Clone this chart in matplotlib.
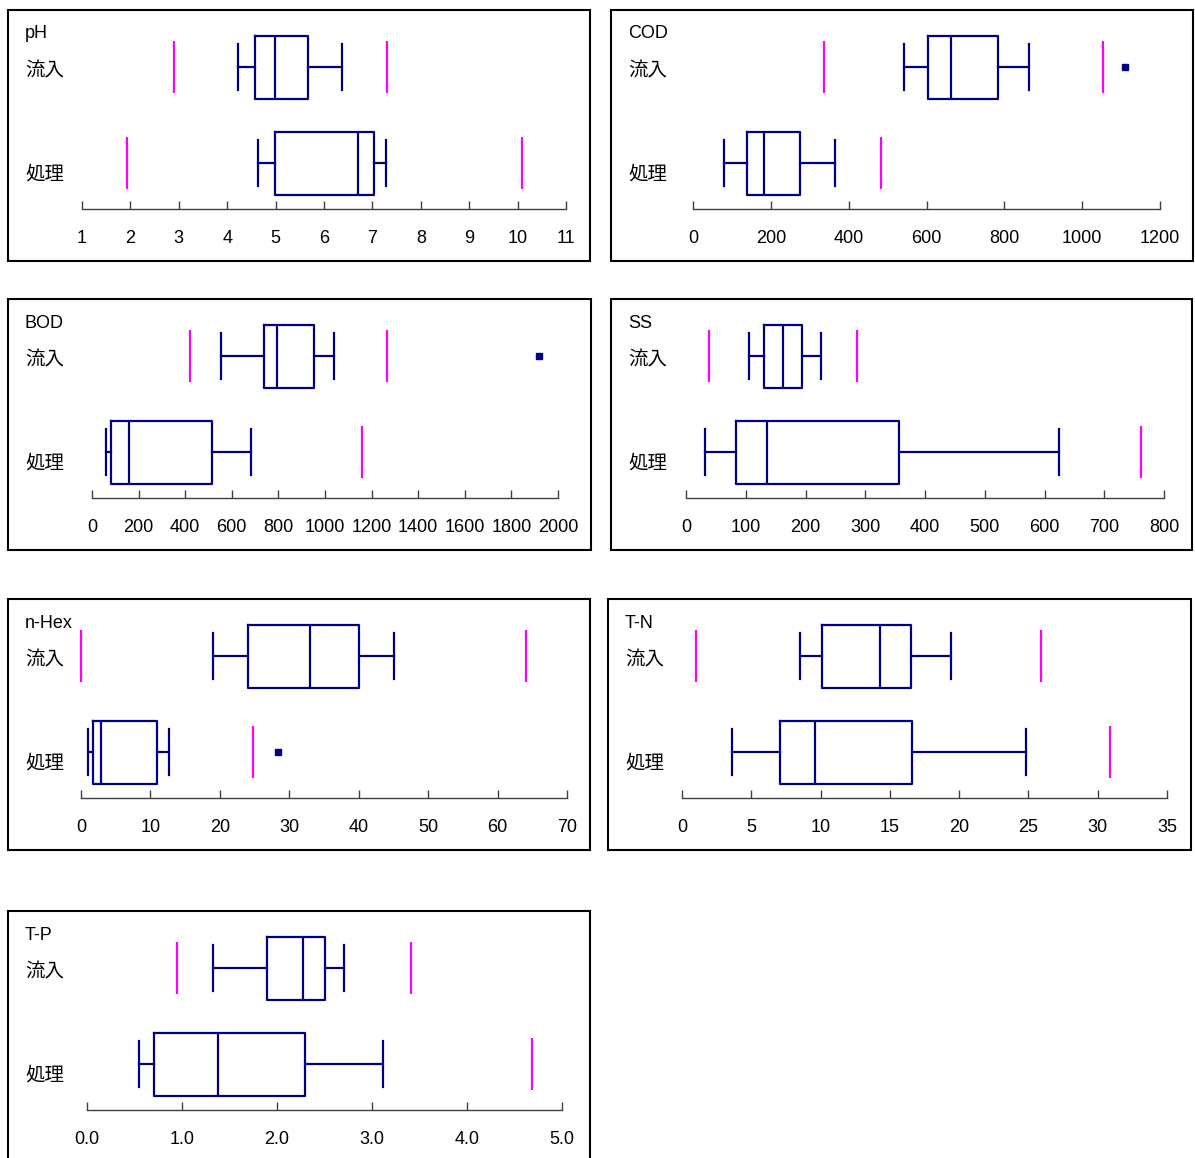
import numpy as np
import matplotlib.pyplot as plt
from matplotlib.patches import Rectangle

plt.rcParams['font.family'] = ['Liberation Sans', 'Noto Sans CJK JP']

names = ['pH', 'COD', 'BOD', 'SS', 'n-Hex', 'T-N', 'T-P']
row_labels = ['流入', '処理']

# 流入 (inflow): whiskers, quartiles, median, outliers, magenta limit lines
in_whislo = [4.22, 542, 552, 105, 19.0, 8.5, 1.33]
in_q1 = [4.57, 603, 737, 130, 24.0, 10.1, 1.89]
in_med = [4.98, 662, 793, 162, 33.0, 14.3, 2.27]
in_q3 = [5.67, 784, 952, 194, 40.1, 16.5, 2.50]
in_whishi = [6.37, 864, 1040, 226, 45.1, 19.4, 2.70]
in_fliers = [[], [1110], [1920], [], [], [], []]
in_lower = [2.9, 337, 421, 38, 0.0, 1.0, 0.95]
in_upper = [7.31, 1053, 1268, 286, 64.1, 25.9, 3.41]

# 処理 (treated)
tr_whislo = [4.64, 79, 62, 31, 1.05, 3.6, 0.55]
tr_q1 = [4.99, 138, 82, 84, 1.7, 7.1, 0.70]
tr_med = [6.71, 182, 159, 136, 2.9, 9.6, 1.38]
tr_q3 = [7.03, 275, 514, 356, 11.0, 16.6, 2.29]
tr_whishi = [7.29, 366, 683, 625, 12.7, 24.8, 3.12]
tr_fliers = [[], [], [], [], [28.4], [], []]
tr_lower = [1.92, None, None, None, None, None, None]
tr_upper = [10.1, 483, 1158, 762, 24.8, 30.9, 4.68]

# axis ticks
tick_min = [1, 0, 0, 0, 0, 0, 0.0]
tick_max = [11, 1200, 2000, 800, 70, 35, 5.0]
tick_step = [1, 200, 200, 100, 10, 5, 1.0]
tick_fmt = ['%d', '%d', '%d', '%d', '%d', '%d', '%.1f']

# layout in pixels: frame box and axis span
W, H = 1195, 1158
frames = [(8, 10, 590, 261), (611, 10, 1193, 261),
          (8, 299, 591, 550), (611, 299, 1192, 550),
          (8, 599, 590, 850), (608, 599, 1191, 850),
          (8, 911, 590, 1170)]
axis_x = [(82, 566), (693, 1160), (92, 558), (686, 1164),
          (81, 567), (682, 1167), (87, 562)]

navy = '#000080'
magenta = '#ff00ff'

fig = plt.figure(figsize=(W / 100, H / 100), dpi=100)

for i, name in enumerate(names):
    fx0, fy0, fx1, fy1 = frames[i]
    ax0, ax1 = axis_x[i]
    ay = fy0 + 199
    fig.add_artist(Rectangle((fx0 / W, 1 - fy1 / H), (fx1 - fx0) / W, (fy1 - fy0) / H,
                             transform=fig.transFigure, fill=False, lw=1.5, ec='black'))

    ax = fig.add_axes([ax0 / W, 1 - ay / H, (ax1 - ax0) / W, 199 / H])
    ax.patch.set_visible(False)
    ax.set_ylim(199, 0)
    ax.set_xlim(tick_min[i], tick_max[i])

    stats = [
        dict(whislo=in_whislo[i], q1=in_q1[i], med=in_med[i], q3=in_q3[i],
             whishi=in_whishi[i], fliers=in_fliers[i]),
        dict(whislo=tr_whislo[i], q1=tr_q1[i], med=tr_med[i], q3=tr_q3[i],
             whishi=tr_whishi[i], fliers=tr_fliers[i]),
    ]
    lp = dict(color=navy, lw=1.6)
    ax.bxp(stats, positions=[57, 153], widths=63, capwidths=46,
           orientation='horizontal', manage_ticks=False,
           boxprops=lp, whiskerprops=lp, capprops=lp, medianprops=lp,
           flierprops=dict(marker='s', markersize=5, markerfacecolor=navy,
                           markeredgecolor=navy))

    for pos, lo, hi in [(57, in_lower[i], in_upper[i]), (153, tr_lower[i], tr_upper[i])]:
        for v in (lo, hi):
            if v is not None:
                ax.vlines(v, pos - 26, pos + 26, color=magenta, lw=1.6, clip_on=False)

    ticks = np.arange(tick_min[i], tick_max[i] + tick_step[i] / 2, tick_step[i])
    ax.set_xticks(ticks)
    ax.set_xticklabels([tick_fmt[i] % t for t in ticks])
    ax.tick_params(axis='x', direction='in', length=6, width=1, pad=15,
                   labelsize=13, color='#404040', labelcolor='black')
    ax.set_yticks([])
    for s in ['left', 'right', 'top']:
        ax.spines[s].set_visible(False)
    ax.spines['bottom'].set_color('#404040')
    ax.spines['bottom'].set_linewidth(1)

    tx = fx0 + 17
    fig.text(tx / W, 1 - (fy0 + 24) / H, name, ha='left', va='center', fontsize=13)
    fig.text(tx / W, 1 - (fy0 + 61) / H, row_labels[0], ha='left', va='center', fontsize=14)
    fig.text(tx / W, 1 - (fy0 + 165) / H, row_labels[1], ha='left', va='center', fontsize=14)

fig.savefig('out.png', dpi=100)
